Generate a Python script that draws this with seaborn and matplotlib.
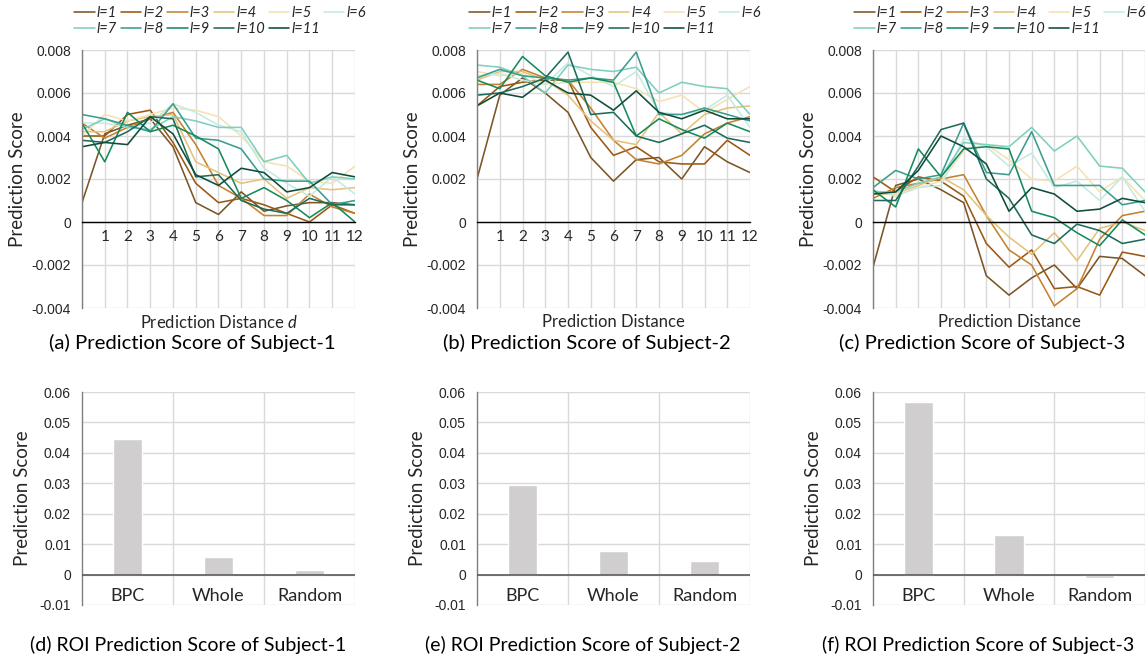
import numpy as np
import pandas as pd
import seaborn as sns
import matplotlib
matplotlib.use("Agg")
import matplotlib.pyplot as plt

# ---------------- data ----------------
distances = list(range(13))
layers = [f"l={i}" for i in range(1, 12)]

subj1 = {
    "l=1":  [0.0009, 0.0041, 0.0045, 0.0048, 0.0035, 0.0009, 0.00035, 0.0014, 0.0005, 0.00075, 0.0009, 0.0009, 0.0008],
    "l=2":  [0.0040, 0.0040, 0.0050, 0.0052, 0.0037, 0.0018, 0.0009, 0.0011, 0.0008, 0.0004, 0.0000, 0.0008, 0.0004],
    "l=3":  [0.0046, 0.0039, 0.0044, 0.0048, 0.0051, 0.0036, 0.0017, 0.0011, 0.0003, 0.0003, 0.0013, 0.0007, 0.0004],
    "l=4":  [0.0042, 0.0042, 0.0047, 0.0049, 0.0050, 0.0028, 0.0023, 0.0018, 0.0020, 0.0011, 0.0016, 0.0015, 0.0016],
    "l=5":  [0.0040, 0.0050, 0.0047, 0.0050, 0.0053, 0.0052, 0.0049, 0.0040, 0.0028, 0.0026, 0.0019, 0.0018, 0.0026],
    "l=6":  [0.0046, 0.0046, 0.0044, 0.0046, 0.0055, 0.0051, 0.0045, 0.0042, 0.0025, 0.0018, 0.0012, 0.0021, 0.0013],
    "l=7":  [0.0043, 0.0048, 0.0044, 0.0043, 0.0049, 0.0047, 0.0044, 0.0044, 0.0028, 0.0031, 0.0018, 0.0021, 0.0020],
    "l=8":  [0.0050, 0.0048, 0.0045, 0.0042, 0.0055, 0.0039, 0.0038, 0.0034, 0.0020, 0.0019, 0.0019, 0.0008, 0.0010],
    "l=9":  [0.0046, 0.0028, 0.0051, 0.0042, 0.0045, 0.0040, 0.0034, 0.0011, 0.0016, 0.0010, 0.0002, 0.0009, 0.0000],
    "l=10": [0.0038, 0.0037, 0.0042, 0.0049, 0.0048, 0.0021, 0.0022, 0.0010, 0.0006, 0.0004, 0.0011, 0.0008, 0.0008],
    "l=11": [0.0035, 0.0037, 0.0036, 0.0049, 0.0041, 0.0022, 0.0017, 0.0025, 0.0023, 0.0014, 0.0016, 0.0023, 0.0021],
}
subj2 = {
    "l=1":  [0.0020, 0.0059, 0.0067, 0.0060, 0.0051, 0.0030, 0.0019, 0.0029, 0.0030, 0.0020, 0.0035, 0.0028, 0.0023],
    "l=2":  [0.0054, 0.0063, 0.0065, 0.0066, 0.0066, 0.0044, 0.0031, 0.0035, 0.0028, 0.0027, 0.0027, 0.0038, 0.0031],
    "l=3":  [0.0064, 0.0064, 0.0071, 0.0067, 0.0066, 0.0053, 0.0038, 0.0029, 0.0027, 0.0031, 0.0041, 0.0046, 0.0049],
    "l=4":  [0.0066, 0.0070, 0.0070, 0.0066, 0.0059, 0.0047, 0.0038, 0.0036, 0.0051, 0.0041, 0.0050, 0.0053, 0.0054],
    "l=5":  [0.0070, 0.0068, 0.0069, 0.0064, 0.0065, 0.0065, 0.0065, 0.0062, 0.0056, 0.0059, 0.0051, 0.0057, 0.0063],
    "l=6":  [0.0068, 0.0069, 0.0066, 0.0064, 0.0074, 0.0068, 0.0063, 0.0070, 0.0051, 0.0050, 0.0052, 0.0059, 0.0044],
    "l=7":  [0.0073, 0.0072, 0.0068, 0.0060, 0.0073, 0.0071, 0.0070, 0.0072, 0.0060, 0.0065, 0.0063, 0.0062, 0.0050],
    "l=8":  [0.0067, 0.0071, 0.0068, 0.0067, 0.0066, 0.0067, 0.0066, 0.0079, 0.0050, 0.0050, 0.0053, 0.0050, 0.0047],
    "l=9":  [0.0066, 0.0062, 0.0077, 0.0068, 0.0065, 0.0067, 0.0065, 0.0040, 0.0048, 0.0043, 0.0039, 0.0046, 0.0042],
    "l=10": [0.0059, 0.0060, 0.0063, 0.0067, 0.0079, 0.0050, 0.0051, 0.0040, 0.0037, 0.0041, 0.0045, 0.0039, 0.0037],
    "l=11": [0.0054, 0.0060, 0.0058, 0.0066, 0.0060, 0.0059, 0.0052, 0.0061, 0.0051, 0.0048, 0.0052, 0.0048, 0.0048],
}
subj3 = {
    "l=1":  [-0.0021, 0.0017, 0.0020, 0.0015, 0.0009, -0.0025, -0.0034, -0.0026, -0.0020, -0.0031, -0.0016, -0.0017, -0.0025],
    "l=2":  [0.0021, 0.0014, 0.0021, 0.0019, 0.0012, -0.0010, -0.0021, -0.0013, -0.0031, -0.0030, -0.0034, -0.0014, -0.0016],
    "l=3":  [0.0011, 0.0016, 0.0018, 0.0020, 0.0022, 0.0003, -0.0013, -0.0020, -0.0039, -0.0031, -0.0008, 0.0003, 0.0005],
    "l=4":  [0.0013, 0.0013, 0.0017, 0.0021, 0.0015, 0.0003, -0.0007, -0.0015, -0.0005, -0.0018, -0.0003, 0.0000, -0.0004],
    "l=5":  [0.0014, 0.0013, 0.0016, 0.0019, 0.0033, 0.0036, 0.0029, 0.0020, 0.0019, 0.0026, 0.0014, 0.0021, 0.0010],
    "l=6":  [0.0015, 0.0012, 0.0016, 0.0017, 0.0039, 0.0035, 0.0026, 0.0032, 0.0016, 0.0019, 0.0010, 0.0021, 0.0005],
    "l=7":  [0.0014, 0.0014, 0.0018, 0.0021, 0.0037, 0.0036, 0.0035, 0.0044, 0.0033, 0.0040, 0.0026, 0.0025, 0.0014],
    "l=8":  [0.0016, 0.0024, 0.0020, 0.0022, 0.0046, 0.0023, 0.0022, 0.0042, 0.0017, 0.0017, 0.0017, 0.0008, 0.0010],
    "l=9":  [0.0015, 0.0007, 0.0034, 0.0021, 0.0034, 0.0035, 0.0034, 0.0005, 0.0002, -0.0005, -0.0011, 0.0001, -0.0006],
    "l=10": [0.0010, 0.0010, 0.0026, 0.0043, 0.0046, 0.0020, 0.0011, -0.0006, -0.0010, -0.0001, -0.0004, -0.0010, -0.0008],
    "l=11": [0.0013, 0.0014, 0.0024, 0.0040, 0.0035, 0.0027, 0.0005, 0.0016, 0.0013, 0.0005, 0.0006, 0.0011, 0.0009],
}

roi_categories = ["BPC", "Whole", "Random"]
roi_subj1 = [0.0445, 0.0058, 0.0015]
roi_subj2 = [0.0293, 0.0077, 0.0043]
roi_subj3 = [0.0567, 0.0130, -0.0012]

layer_colors = ["#7b5526", "#9a5812", "#c3822f", "#e5c27a", "#f4e2b2", "#c5eae1",
                "#7fcfbf", "#3a9d8e", "#168a5c", "#1d6b5a", "#0e4c3b"]

line_titles = ["(a) Prediction Score of Subject-1", "(b) Prediction Score of Subject-2",
               "(c) Prediction Score of Subject-3"]
bar_titles = ["(d) ROI Prediction Score of Subject-1", "(e) ROI Prediction Score of Subject-2",
              "(f) ROI Prediction Score of Subject-3"]
xlabels = ["Prediction Distance $\\mathit{d}$", "Prediction Distance", "Prediction Distance"]

# ---------------- style ----------------
sns.set_theme(style="white")
plt.rcParams["font.family"] = ["Lato", "DejaVu Sans"]
plt.rcParams["mathtext.fontset"] = "custom"
plt.rcParams["mathtext.it"] = "Lato:italic"
TICKFONT = "Liberation Sans"
GRID = "#d9d9d9"

W, H = 1148, 661
fig = plt.figure(figsize=(W / 100, H / 100), dpi=100)

def px_axes(left, right, top, bottom):
    return fig.add_axes([left / W, 1 - bottom / H, (right - left) / W, (bottom - top) / H])

line_lefts = [82, 477, 873]
line_rights = [355, 750, 1145]
title_cx_line = [192, 587, 982]
title_cx_bar = [188, 583, 978]
legend_cx = [220, 615, 1000]

for i, data in enumerate([subj1, subj2, subj3]):
    ax = px_axes(line_lefts[i], line_rights[i], 50, 308)
    df = pd.DataFrame([(lay, d, v) for lay in layers for d, v in zip(distances, data[lay])],
                      columns=["layer", "d", "score"])
    sns.lineplot(data=df, x="d", y="score", hue="layer", hue_order=layers,
                 palette=layer_colors, linewidth=1.15, ax=ax)
    ax.set_xlim(0, 12)
    ax.set_ylim(-0.004, 0.008)
    ax.set_yticks(np.arange(-0.004, 0.0081, 0.002))
    ax.set_yticklabels(["-0.004", "-0.002", "0", "0.002", "0.004", "0.006", "0.008"],
                       fontfamily=TICKFONT, fontsize=10, color="#262626")
    ax.set_xticks(distances)
    if i < 2:
        ax.set_xticklabels([""] + [str(d) for d in distances[1:]],
                           fontfamily=TICKFONT, fontsize=10.5, color="#7f7f7f")
    else:
        ax.set_xticklabels([""] * len(distances))
    ax.grid(True, color=GRID, linewidth=1.0)
    ax.set_axisbelow(True)
    for s in ["top", "right"]:
        ax.spines[s].set_visible(False)
    ax.spines["bottom"].set_position(("data", 0))
    ax.spines["bottom"].set_color("#000000")
    ax.spines["bottom"].set_linewidth(1.0)
    ax.spines["left"].set_color("#7f7f7f")
    ax.spines["left"].set_linewidth(1.0)
    ax.tick_params(axis="x", direction="out", length=4, width=0.8, color="#000000", pad=2)
    ax.tick_params(axis="y", direction="out", length=4, width=0.8, color="#7f7f7f", pad=4)
    ax.set_xlabel("")
    ax.set_ylabel("Prediction Score", fontsize=13.5, color="#262626", labelpad=4)

    # legend: row-major order (l=1..l=6 on first row, l=7..l=11 on second)
    handles, labels = ax.get_legend_handles_labels()
    order = [0, 6, 1, 7, 2, 8, 3, 9, 4, 10, 5]
    ax.legend([handles[k] for k in order], [labels[k] for k in order],
              loc="lower center",
              bbox_to_anchor=((legend_cx[i] - line_lefts[i]) / (line_rights[i] - line_lefts[i]), 1.055),
              ncol=6, frameon=False, handlelength=1.4, handletextpad=0.15,
              columnspacing=0.25, labelspacing=0.12, borderaxespad=0.0, borderpad=0.0,
              prop={"style": "italic", "size": 10.5, "family": ["Lato"]},
              labelcolor="#262626")
    fig.text((line_lefts[i] + line_rights[i]) / 2 / W, 1 - 322 / H, xlabels[i],
             ha="center", va="center", fontsize=12, color="#262626")
    fig.text(title_cx_line[i] / W, 1 - 343 / H, line_titles[i],
             ha="center", va="center", fontsize=14.6, color="#000000")

for i, vals in enumerate([roi_subj1, roi_subj2, roi_subj3]):
    ax = px_axes(line_lefts[i], line_rights[i], 392, 605)
    sns.barplot(x=roi_categories, y=vals, color="#d0cece", saturation=1, width=0.32, ax=ax)
    ax.set_xlim(-0.5, 2.5)
    ax.set_ylim(-0.01, 0.06)
    ax.set_yticks(np.arange(-0.01, 0.061, 0.01))
    ax.set_yticklabels(["-0.01", "0", "0.01", "0.02", "0.03", "0.04", "0.05", "0.06"],
                       fontfamily=TICKFONT, fontsize=10, color="#262626")
    ax.set_xticks([0, 1, 2])
    ax.set_xticklabels(roi_categories, fontsize=13, color="#262626")
    ax.set_xticks([0.5, 1.5, 2.5], minor=True)
    ax.grid(True, axis="y", color=GRID, linewidth=1.0)
    ax.grid(True, axis="x", which="minor", color=GRID, linewidth=1.0)
    ax.grid(False, axis="x", which="major")
    ax.set_axisbelow(True)
    ax.axhline(0, color="#595959", linewidth=1.2, zorder=3)
    for s in ["top", "right", "bottom"]:
        ax.spines[s].set_visible(False)
    ax.spines["left"].set_color("#7f7f7f")
    ax.spines["left"].set_linewidth(1.0)
    ax.tick_params(axis="x", which="both", length=0, pad=-12)
    ax.tick_params(axis="y", direction="out", length=4, width=0.8, color="#7f7f7f", pad=4)
    ax.set_xlabel("")
    ax.set_ylabel("Prediction Score", fontsize=13.5, color="#262626", labelpad=6)
    fig.text(title_cx_bar[i] / W, 1 - 645 / H, bar_titles[i],
             ha="center", va="center", fontsize=14.0, color="#000000")

fig.savefig("out.png", dpi=100, facecolor="white")
